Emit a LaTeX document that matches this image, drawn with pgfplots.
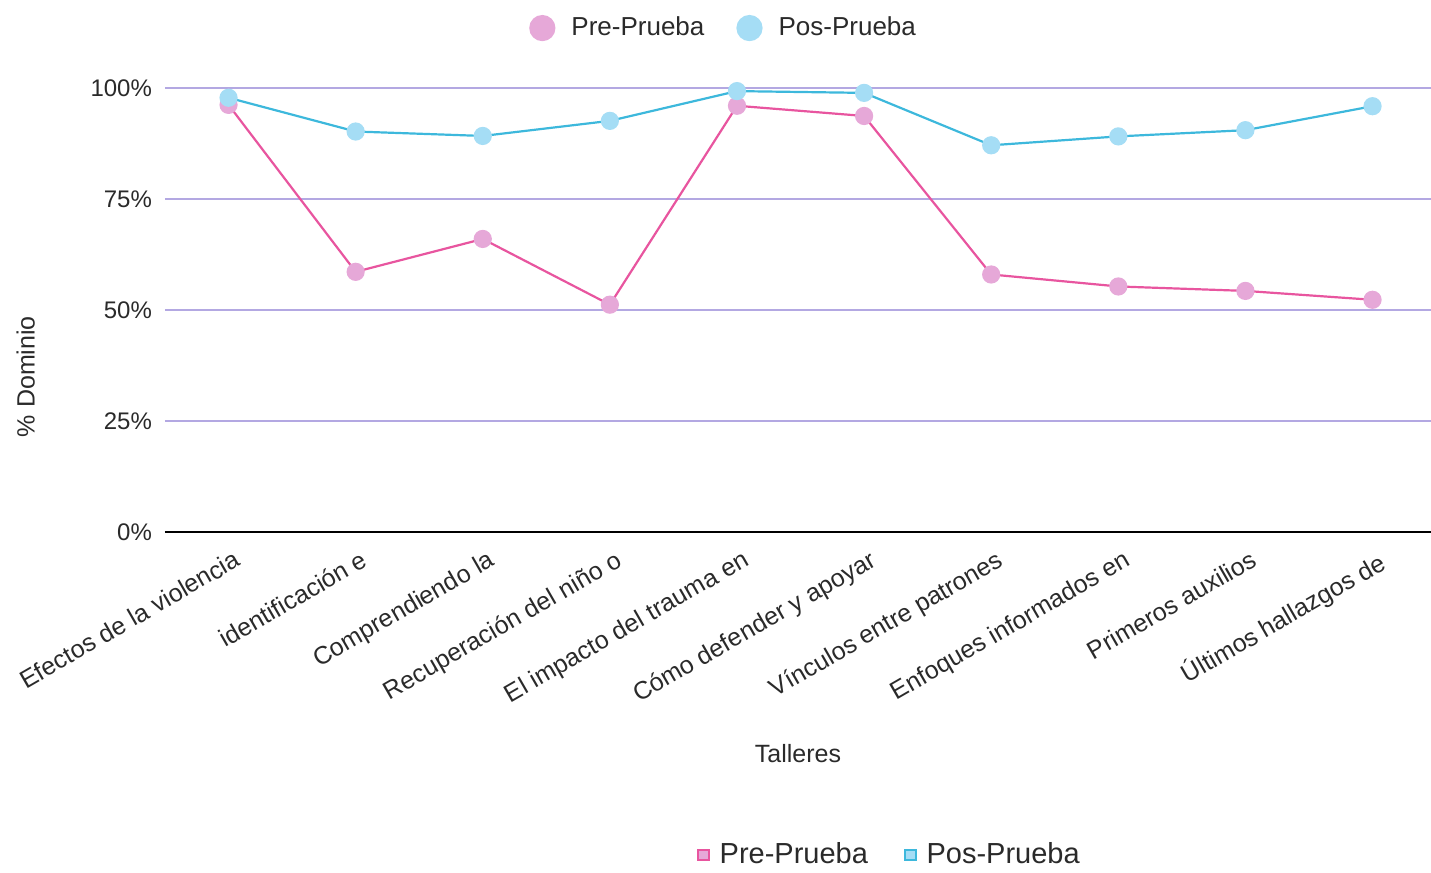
\documentclass[border=0pt]{standalone}
\usepackage{pgfplots}
\pgfplotsset{compat=1.18}
\usepackage{fontspec}
\setmainfont{Liberation Sans}
\definecolor{pinkline}{HTML}{E8559F}
\definecolor{pinkfill}{HTML}{E6A8D8}
\definecolor{blueline}{HTML}{3DB8DC}
\definecolor{bluefill}{HTML}{A5DDF5}
\definecolor{gridc}{HTML}{B3A8E2}
\definecolor{txt}{HTML}{2A2A2A}
\begin{document}
\begin{tikzpicture}
\useasboundingbox (-82.5pt,-170.5pt) rectangle (633pt,266pt);
\begin{axis}[
  at={(0,0)}, anchor=south west,
  scale only axis, width=633pt, height=222pt,
  xmin=-0.5, xmax=9.46, ymin=0, ymax=100,
  axis y line*=left, axis x line*=bottom,
  x axis line style={black, line width=1pt, -},
  y axis line style={draw=none},
  ymajorgrids, grid style={gridc, line width=0.6pt},
  ytick={0,25,50,75,100},
  yticklabel={\pgfmathprintnumber{\tick}\%},
  /pgf/number format/assume math mode=true,
  yticklabel style={font=\fontsize{12}{14}\selectfont, text=txt, xshift=-3pt},
  xtick={0,...,9}, major tick length=0pt,
  xticklabels={Efectos de la violencia, identificación e, Comprendiendo la, Recuperación del niño o, El impacto del trauma en, Cómo defender y apoyar, Vínculos entre patrones, Enfoques informados en, Primeros auxilios, Últimos hallazgos de},
  xticklabel style={rotate=30, anchor=north east, font=\fontsize{12.5}{14}\selectfont, text=txt, xshift=1pt, yshift=-5pt},
  xlabel={Talleres},
  xlabel style={at={(axis description cs:0.5,-0.5)}, anchor=center, font=\fontsize{12.5}{14}\selectfont, text=txt},
  ylabel={\% Dominio},
  ylabel style={at={(axis description cs:-0.11,0.35)}, anchor=center, font=\fontsize{12.5}{14}\selectfont, text=txt},
  legend style={at={(axis description cs:0.442,1.135)}, anchor=center, draw=none, fill=none, legend columns=2, font=\fontsize{13}{16}\selectfont, text=txt, /tikz/every odd column/.append style={column sep=6pt}, /tikz/every even column/.append style={column sep=14pt}},
  clip=false,
]
\addplot[pinkline, line width=1.1pt, mark=*, mark size=4pt, mark options={fill=pinkfill, draw=pinkfill},
  legend image code/.code={\fill[pinkfill] (0.25cm,0cm) circle (6pt);}]
  coordinates {(0,96.2) (1,58.6) (2,66) (3,51.2) (4,96) (5,93.7) (6,58) (7,55.3) (8,54.3) (9,52.3)};
\addlegendentry{Pre-Prueba}
\addplot[blueline, line width=1.1pt, mark=*, mark size=4pt, mark options={fill=bluefill, draw=bluefill},
  legend image code/.code={\fill[bluefill] (0.25cm,0cm) circle (6pt);}]
  coordinates {(0,97.8) (1,90.2) (2,89.2) (3,92.6) (4,99.3) (5,98.9) (6,87.1) (7,89.1) (8,90.5) (9,95.9)};
\addlegendentry{Pos-Prueba}
\end{axis}
\begin{axis}[
  at={(0,0)}, anchor=south west,
  scale only axis, width=633pt, height=222pt,
  xmin=0, xmax=1, ymin=0, ymax=1, hide axis,
  legend style={at={(axis description cs:0.573,-0.727)}, anchor=center, draw=none, fill=none, legend columns=2, font=\fontsize{14.5}{17}\selectfont, text=txt, /tikz/every odd column/.append style={column sep=3pt}, /tikz/every even column/.append style={column sep=16pt}},
]
\addlegendimage{legend image code/.code={\filldraw[fill=pinkfill, draw=pinkline, line width=0.8pt] (0.25cm,-2.5pt) rectangle (0.25cm+5.5pt,2.5pt);}}
\addlegendentry{Pre-Prueba}
\addlegendimage{legend image code/.code={\filldraw[fill=bluefill, draw=blueline, line width=0.8pt] (0.25cm,-2.5pt) rectangle (0.25cm+5.5pt,2.5pt);}}
\addlegendentry{Pos-Prueba}
\end{axis}
\end{tikzpicture}
\end{document}
